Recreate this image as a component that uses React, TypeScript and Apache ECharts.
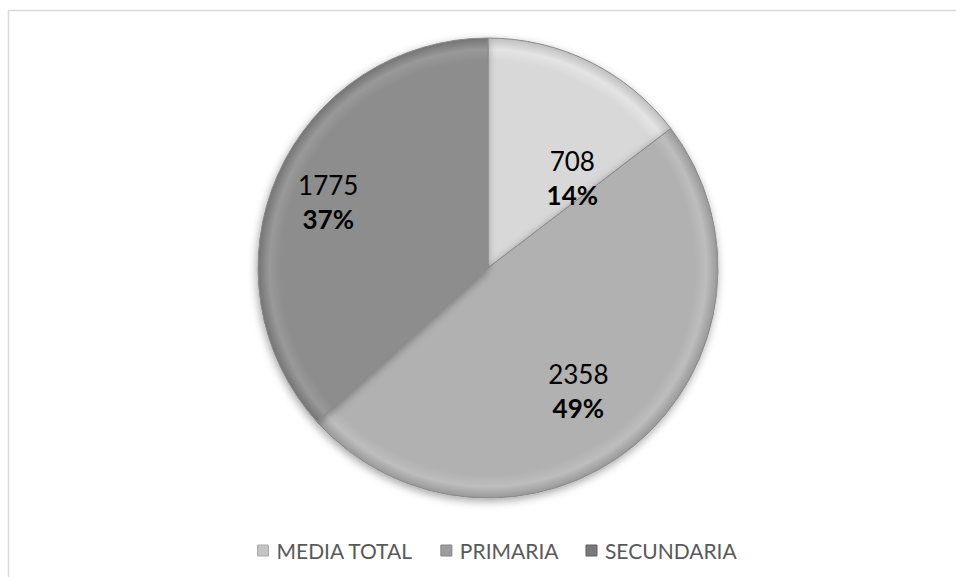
import React, { useEffect, useRef } from "react";
import * as echarts from "echarts";

const categories = ["MEDIA TOTAL", "PRIMARIA", "SECUNDARIA"];
const values = [708, 2358, 1775];
const percentLabels = ["14%", "49%", "37%"];
const colors = ["#d8d8d8", "#b1b1b1", "#8d8d8d"];

function shade(hex: string, amt: number) {
  const n = parseInt(hex.slice(1), 16);
  const c = (v: number) => Math.max(0, Math.min(255, Math.round(v + amt)));
  const r = c((n >> 16) & 255), g = c((n >> 8) & 255), b = c(n & 255);
  return `rgb(${r},${g},${b})`;
}

export default function App() {
  const ref = useRef<HTMLDivElement>(null);
  useEffect(() => {
    if (!ref.current) return;
    const chart = echarts.init(ref.current, undefined, { renderer: "svg" });
    const cx = 488, cy = 268, R = 230;
    const offsets = [[32, 16], [15, 32], [-52, -18]];
    const data = categories.map((name, i) => ({
      name,
      value: values[i],
      itemStyle: {
        color: {
          type: "radial",
          x: cx, y: cy, r: R, global: true,
          colorStops: [
            { offset: 0, color: colors[i] },
            { offset: 0.9, color: colors[i] },
            { offset: 0.95, color: shade(colors[i], 12) },
            { offset: 1, color: shade(colors[i], -25) },
          ],
        },
      },
      label: { offset: offsets[i] },
    }));
    chart.setOption({
      animation: false,
      backgroundColor: "#ffffff",
      graphic: [
        {
          type: "rect",
          shape: { x: 8.5, y: 10.5, width: 960, height: 580 },
          style: { fill: "none", stroke: "#d9d9d9", lineWidth: 1.5 },
          z: -10,
        },
      ],
      legend: {
        data: categories.map((name, i) => ({
          name,
          itemStyle: {
            color: shade(colors[i], -20),
            borderColor: shade(colors[i], -45),
            borderWidth: 1,
          },
        })),
        left: 252,
        top: 535,
        icon: "rect",
        itemWidth: 11,
        itemHeight: 11,
        itemGap: 27,
        textStyle: { fontFamily: "Lato", fontSize: 21, color: "#595959", padding: [0, 0, 0, 3] },
      },
      series: [
        {
          type: "pie",
          center: [cx, cy],
          radius: [0, R],
          startAngle: 90,
          clockwise: true,
          data,
          itemStyle: {
            borderColor: "#8a8a8a",
            borderWidth: 1,
            shadowBlur: 8,
            shadowColor: "rgba(0,0,0,0.35)",
            shadowOffsetX: -1,
            shadowOffsetY: 3,
          },
          label: {
            show: true,
            position: "inside",
            formatter: (p: any) => `{v|${p.value}}\n{p|${percentLabels[p.dataIndex]}}`,
            rich: {
              v: { fontFamily: "Lato", fontSize: 26, color: "#000", lineHeight: 34, align: "center" },
              p: { fontFamily: "Lato", fontSize: 26, fontWeight: "bold", color: "#000", lineHeight: 34, align: "center" },
            },
          },
          labelLine: { show: false },
          emphasis: { disabled: true },
        },
      ],
    });
    return () => chart.dispose();
  }, []);
  return (
    <div
      ref={ref}
      style={{ position: "absolute", left: 0, top: 0, width: 956, height: 577 }}
    />
  );
}
